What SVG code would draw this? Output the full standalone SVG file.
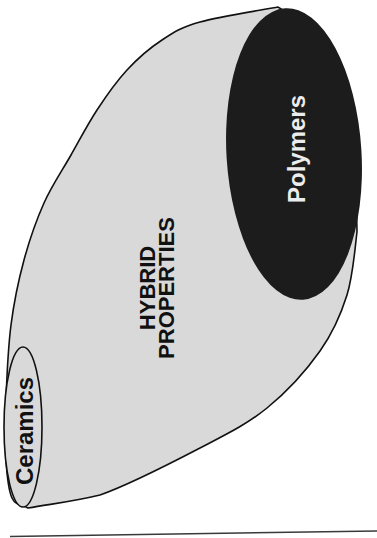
<svg xmlns="http://www.w3.org/2000/svg" width="377" height="538" viewBox="0 0 377 538">
  <style>
    .lbl { font-family: "Liberation Sans", Arial, Helvetica, sans-serif; font-weight: bold; text-anchor: middle; }
    .dark { fill: #111111; }
    .light { fill: #ececec; }
    .stip { fill: #d9d9d9; stroke: #111111; stroke-width: 1.6; }
  </style>
  <rect width="377" height="538" fill="#ffffff"/>
  <g id="hybrid">
    <path class="stip" d="M278,7 C265,9.5 219.3,16.5 200,22 C180.7,27.5 174.2,32 162,40 C149.8,48 137.8,58.3 127,70 C116.2,81.7 106.3,95.8 97,110 C87.7,124.2 79.8,139.5 71,155 C62.2,170.5 51.8,185.5 44,203 C36.2,220.5 29.5,239.7 24,260 C18.5,280.3 14,301.7 11,325 C8,348.3 6.8,377.5 6,400 C5.2,422.5 5,443.7 6,460 C7,476.3 8.3,490 12,498 C15.7,506 22.7,504.7 28,508 C52,503.7 71,502 100,495 C128.7,485 172.2,462.5 200,448 C227.8,433.5 247,424.2 267,408 C287,391.8 306.7,369.8 320,351 C333.3,332.2 340.8,314.8 347,295 C353.2,275.2 355.2,245.3 357,232 L356,180 L283,10 Z"/>
    <text class="lbl dark" font-size="22" transform="translate(155,288) rotate(-90)">HYBRID</text>
    <text class="lbl dark" font-size="22" transform="translate(174,288) rotate(-90)">PROPERTIES</text>
  </g>
  <g id="ceramics">
    <ellipse class="stip" cx="23" cy="427" rx="19" ry="80"/>
    <text class="lbl dark" font-size="24" transform="translate(33,431) rotate(-90)">Ceramics</text>
  </g>
  <g id="polymers">
    <ellipse cx="294" cy="154" rx="67.5" ry="146" fill="#1c1c1c" transform="rotate(-3.5 294 154)"/>
    <text class="lbl light" font-size="24" transform="translate(305,149) rotate(-90)">Polymers</text>
  </g>
  <g id="connectors"></g>
  <line x1="10" y1="536.5" x2="377" y2="531" stroke="#3a3a3a" stroke-width="1.5"/>
</svg>
